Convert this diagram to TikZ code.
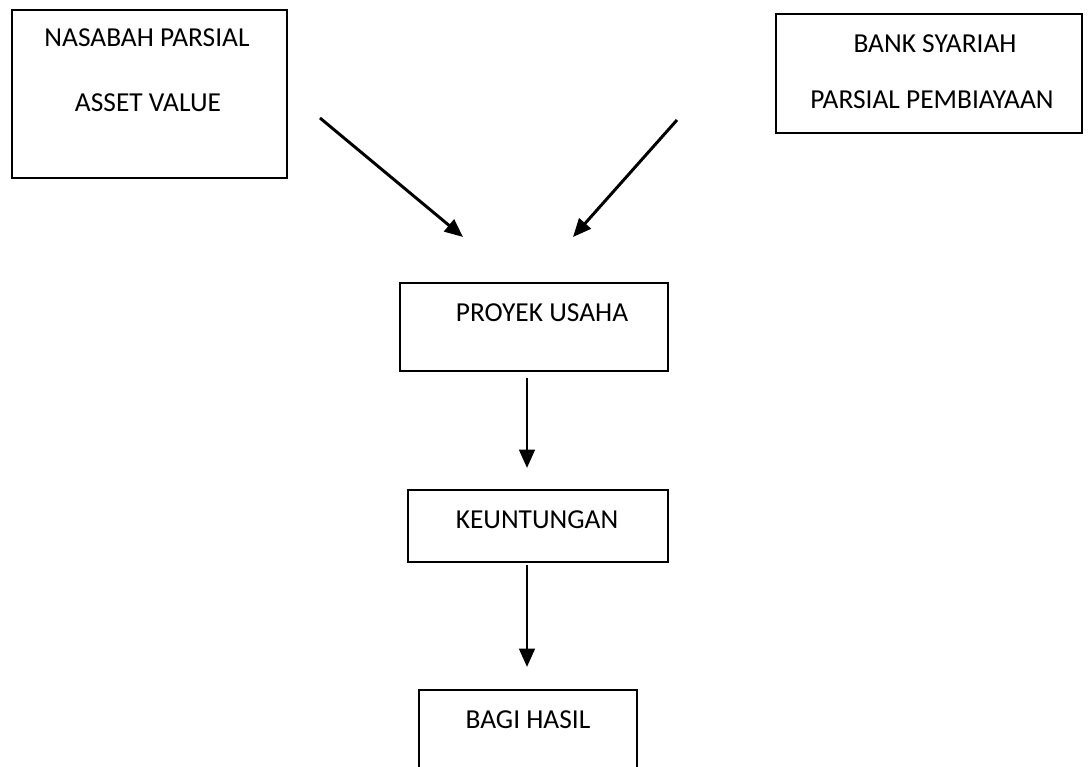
\documentclass[tikz,border=0pt]{standalone}
\usepackage{xcolor}
\usepackage{fontspec}
\setmainfont{Carlito}
\usetikzlibrary{arrows.meta}

\tikzset{
  box/.style={shape=rectangle,draw=black,line width=1.3pt},
  lbl/.style={font=\fontsize{19.5}{23}\selectfont,inner sep=0pt},
  arr/.style={line width=2.1pt,-{Triangle[length=13pt,width=11pt]}}
}

\begin{document}
\begin{tikzpicture}[x=0.025cm,y=-0.025cm]
                    \useasboundingbox (0,0) rectangle (1088,767);
                    \clip (0,0) rectangle (1088,767);

                    % boxes
                    \node[box,minimum width=6.875cm,minimum height=4.2cm] (nasabah) at (149.5,94) {};
                    \node[box,minimum width=7.65cm,minimum height=2.975cm] (bank) at (929,73.5) {};
                    \node[box,minimum width=6.7cm,minimum height=2.2cm] (proyek) at (534,327) {};
                    \node[box,minimum width=6.5cm,minimum height=1.8cm] (untung) at (538,526) {};
                    \node[box,minimum width=5.45cm,minimum height=2.75cm] (bagi) at (528,745) {};

                    % texts
                    \node[lbl] (nasabahA) at (147,38) {NASABAH PARSIAL};
                    \node[lbl] (nasabahB) at (148,103) {ASSET VALUE};
                    \node[lbl] (bankA) at (935,44) {BANK SYARIAH};
                    \node[lbl] (bankB) at (932,100) {PARSIAL PEMBIAYAAN};
                    \node[lbl] (proyekA) at (542,313) {PROYEK USAHA};
                    \node[lbl] (untungA) at (537,520) {KEUNTUNGAN};
                    \node[lbl] (bagiA) at (528,720) {BAGI HASIL};

                    % arrow ends
                    \coordinate (n1) at (320,118);
                    \coordinate (n2) at (463,237);
                    \coordinate (b1) at (677,120);
                    \coordinate (b2) at (573,237);
                    \coordinate (p1) at (527,378);
                    \coordinate (p2) at (527,468);
                    \coordinate (k1) at (527,565);
                    \coordinate (k2) at (527,667);

                    \draw[arr] (n1) -- (n2);
                    \draw[arr] (b1) -- (b2);
                    \draw[arr] (p1) -- (p2);
                    \draw[arr] (k1) -- (k2);
                \end{tikzpicture}
\end{document}
